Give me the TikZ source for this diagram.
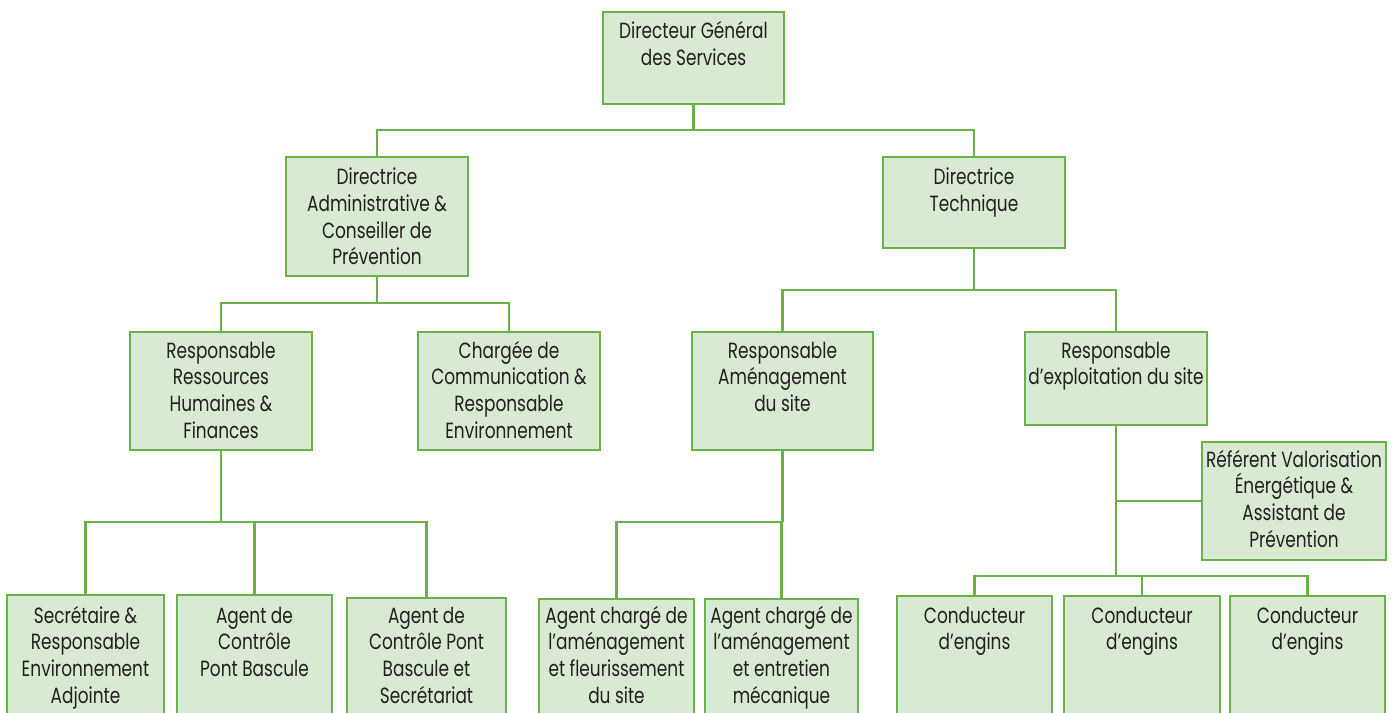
\documentclass[tikz,border=0pt]{standalone}
\usepackage{fontspec}
\setmainfont{Poppins}[FakeStretch=0.77]
\usetikzlibrary{calc}
\definecolor{lgreen}{RGB}{106,178,72}
\definecolor{bfill}{RGB}{217,234,211}
\definecolor{tcol}{RGB}{35,31,32}
\tikzset{
  orgbox/.style={draw=lgreen, fill=bfill, line width=2.2pt, inner sep=0pt, outer sep=0pt},
  orgtext/.style={inner sep=0pt, text=tcol, font=\fontsize{16.5}{20}\selectfont},
  conn/.style={draw=lgreen, line width=2.1pt},
}
\newcommand\orgnode[7]{%
  \node[orgbox, anchor=north west, minimum width={(#4-#2)*0.75pt}, minimum height={(#5-#3)*0.75pt}] (#1) at (#2,#3) {};
  \node[orgtext, anchor=base] (#1t) at ($(#1.north)+(0,#6-#3)$) {\parbox[t]{200pt}{\centering #7}};
}
\begin{document}
\begin{tikzpicture}[x=0.75pt,y=-0.75pt]
\clip (0,0) rectangle (1396,713);
\fill[white] (0,0) rectangle (1396,713);
\orgnode{dgs}{603}{12}{784}{104}{39}{Directeur Général\\des Services}
\orgnode{da}{286}{157}{468}{276}{185}{Directrice\\Administrative \&\\Conseiller de\\Prévention}
\orgnode{dt}{883}{157}{1065}{248}{185}{Directrice\\Technique}
\orgnode{rrh}{130}{332}{312}{450}{358}{Responsable\\Ressources\\Humaines \&\\Finances}
\orgnode{cc}{418}{332}{600}{450}{358}{Chargée de\\Communication \&\\Responsable\\Environnement}
\orgnode{ra}{692}{332}{873}{450}{358}{Responsable\\Aménagement\\du site}
\orgnode{re}{1025}{332}{1207}{425}{358}{Responsable\\d’exploitation du site}
\orgnode{ref}{1202}{442}{1386}{560}{467}{Référent Valorisation\\Énergétique \&\\Assistant de\\Prévention}
\orgnode{sec}{7}{595}{164}{740}{623}{Secrétaire \&\\Responsable\\Environnement\\Adjointe}
\orgnode{ac}{177}{595}{332}{740}{623}{Agent de\\Contrôle\\Pont Bascule}
\orgnode{acpb}{347}{598}{506}{740}{623}{Agent de\\Contrôle Pont\\Bascule et\\Secrétariat}
\orgnode{aa}{539}{599}{694}{740}{623}{Agent chargé de\\l’aménagement\\et fleurissement\\du site}
\orgnode{ab}{705}{599}{858}{740}{623}{Agent chargé de\\l’aménagement\\et entretien\\mécanique}
\orgnode{ca}{897}{596}{1052}{740}{623}{Conducteur\\d’engins}
\orgnode{cb}{1064}{596}{1220}{740}{623}{Conducteur\\d’engins}
\orgnode{cd}{1230}{596}{1385}{740}{623}{Conducteur\\d’engins}
% junction coordinates
\path (dgs.south) ++(0,26) coordinate (j1);
\path (da.south) ++(0,27) coordinate (j2);
\path (dt.south) ++(0,42) coordinate (j3);
\path (rrh.south) ++(0,72) coordinate (j4);
\path (ra.south) ++(0,72) coordinate (j5);
\path (re.south) ++(0,151) coordinate (j6);
% connectors
\draw[conn] (dgs.south) -- (j1);
\draw[conn] (da.north) |- (j1) -| (dt.north);
\draw[conn] (da.south) -- (j2);
\draw[conn] (rrh.north) |- (j2) -| (cc.north);
\draw[conn] (dt.south) -- (j3);
\draw[conn] (ra.north) |- (j3) -| (re.north);
\draw[conn] (rrh.south) -- (j4);
\draw[conn] (sec.north) |- (j4);
\draw[conn] (ac.north) -- (ac.north |- j4);
\draw[conn] (j4) -| (acpb.north);
\draw[conn] (ra.south) -- (j5);
\draw[conn] (aa.north) |- (j5) -| (ab.north);
\draw[conn] (re.south) -- (j6);
\draw[conn] (re.south) |- (ref.west);
\draw[conn] (ca.north) |- (j6) -| (cd.north);
\draw[conn] (cb.north) -- (cb.north |- j6);
\end{tikzpicture}
\end{document}
